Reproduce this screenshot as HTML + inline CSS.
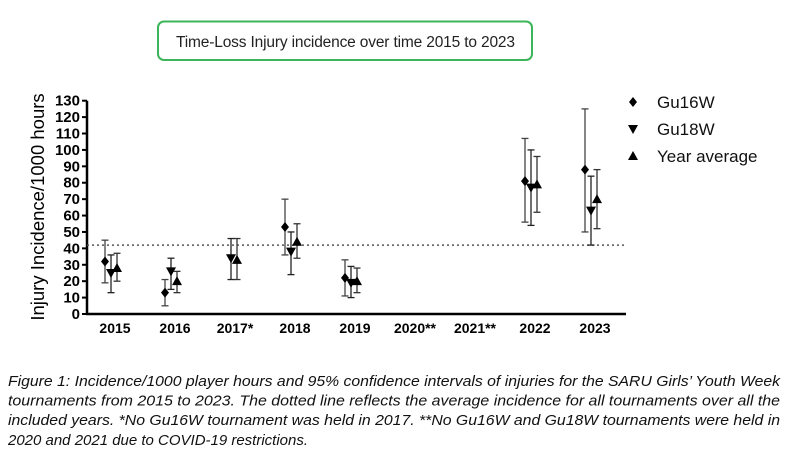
<!DOCTYPE html>
<html><head><meta charset="utf-8"><style>
html,body{margin:0;padding:0;background:#fff;width:792px;height:468px;overflow:hidden}
svg{display:block;font-family:"Liberation Sans",Arial,sans-serif}
</style></head><body>
<svg id="chart" width="792" height="468" viewBox="0 0 792 468">
<rect x="158" y="21.5" width="374" height="38.5" rx="6" fill="#fff" stroke="#3cb55a" stroke-width="2"/>
<text x="176" y="47" font-size="15.5" textLength="339" fill="#222">Time-Loss Injury incidence over time 2015 to 2023</text>
<text transform="translate(44,207) rotate(-90)" text-anchor="middle" font-size="18.5" fill="#000">Injury Incidence/1000 hours</text>
<g id="plot"></g>
<g font-size="15" font-style="italic" fill="#111" font-family="'Liberation Sans Narrow','Liberation Sans',sans-serif">
<text x="8" y="386" textLength="772" lengthAdjust="spacingAndGlyphs">Figure 1: Incidence/1000 player hours and 95% confidence intervals of injuries for the SARU Girls’ Youth Week</text>
<text x="8" y="405.5" textLength="772" lengthAdjust="spacingAndGlyphs">tournaments from 2015 to 2023. The dotted line reflects the average incidence for all tournaments over all the</text>
<text x="8" y="425" textLength="772" lengthAdjust="spacingAndGlyphs">included years. *No Gu16W tournament was held in 2017. **No Gu16W and Gu18W tournaments were held in</text>
<text x="8" y="445" textLength="300" lengthAdjust="spacingAndGlyphs">2020 and 2021 due to COVID-19 restrictions.</text>
</g>
</svg>
<script>
const categories = ["2015","2016","2017*","2018","2019","2020**","2021**","2022","2023"];
const gu16 = [32,13,null,53,22,null,null,81,88];
const gu16Lo = [19,5,null,36,11,null,null,56,50];
const gu16Hi = [45,21,null,70,33,null,null,107,125];
const gu18 = [25,26,34,38,19,null,null,77,63];
const gu18Lo = [13,15,21,24,10,null,null,54,42];
const gu18Hi = [36,34,46,50,29,null,null,100,84];
const avg = [28,20,33,44,20,null,null,79,70];
const avgLo = [20,13,21,34,13,null,null,62,52];
const avgHi = [37,26,46,55,28,null,null,96,88];
const overallAvg = 42;
const yTicks = [0,10,20,30,40,50,60,70,80,90,100,110,120,130];

const NS="http://www.w3.org/2000/svg";
const g=document.getElementById('plot');
const x0=87,x1=626,yBase=314,yTop=100.7;
const yS=v=>yBase-(v/130)*(yBase-yTop);
const xS=i=>115+60*i;
function el(t,a,p){const e=document.createElementNS(NS,t);for(const k in a)e.setAttribute(k,a[k]);(p||g).appendChild(e);return e;}

const yAxis=el('line',{x1:x0,y1:yTop,x2:x0,y2:yBase+1,stroke:'#000','stroke-width':2.5});


const xAxis=el('line',{x1:x0-1,y1:yBase,x2:x1,y2:yBase,stroke:'#000','stroke-width':2.5});


yTicks.forEach(v=>{
  const t=el('line',{x1:x0-5,y1:yS(v),x2:x0,y2:yS(v),stroke:'#000','stroke-width':2});
  
  
  const l=el('text',{x:x0-7,y:yS(v)+5,'text-anchor':'end','font-size':15,'font-weight':'bold'});
  l.textContent=v;
  
  
});
categories.forEach((c,i)=>{
  const l=el('text',{x:xS(i),y:yBase+19,'text-anchor':'middle','font-size':14,'font-weight':'bold'});
  l.textContent=c;
  
  
});
const ref=el('line',{x1:x0,y1:yS(overallAvg),x2:x1,y2:yS(overallAvg),stroke:'#555','stroke-width':1.5,'stroke-dasharray':'2,3'});



function marker(shape,x,y,name){
  let e;
  if(shape==='d') e=el('polygon',{points:`${x},${y-5} ${x+4},${y} ${x},${y+5} ${x-4},${y}`,fill:'#000'});
  else if(shape==='v') e=el('polygon',{points:`${x-5},${y-4} ${x+5},${y-4} ${x},${y+5}`,fill:'#000'});
  else e=el('polygon',{points:`${x-5},${y+4} ${x+5},${y+4} ${x},${y-5}`,fill:'#000'});
  
  
}
function errbar(x,lo,hi,col,name){
  const gg=el('g',{stroke:col,'stroke-width':1.3});
  
  
  el('line',{x1:x,y1:yS(lo),x2:x,y2:yS(hi)},gg);
  el('line',{x1:x-3.5,y1:yS(lo),x2:x+3.5,y2:yS(lo)},gg);
  el('line',{x1:x-3.5,y1:yS(hi),x2:x+3.5,y2:yS(hi)},gg);
}
const series=[[gu16,gu16Lo,gu16Hi,-10,'d','gu16w','#444'],[gu18,gu18Lo,gu18Hi,-4,'v','gu18w','#222'],[avg,avgLo,avgHi,2,'^','year-average','#333']];
series.forEach(([v,lo,hi,off,sh,nm,col])=>{
  v.forEach((val,i)=>{
    if(val==null)return;
    const x=xS(i)+off;
    errbar(x,lo[i],hi[i],col,nm+'-error-bar');
    marker(sh,x,yS(val),nm+'-point');
  });
});
const leg=[['d','Gu16W',103],['v','Gu18W',130],['^','Year average',157]];
leg.forEach(([sh,lab,y])=>{
  marker(sh,633,y-1,'legend-marker');
  const t=el('text',{x:657,y:y+5,'font-size':17,fill:'#111'});
  t.textContent=lab;
  
  
});
</script>
</body></html>
